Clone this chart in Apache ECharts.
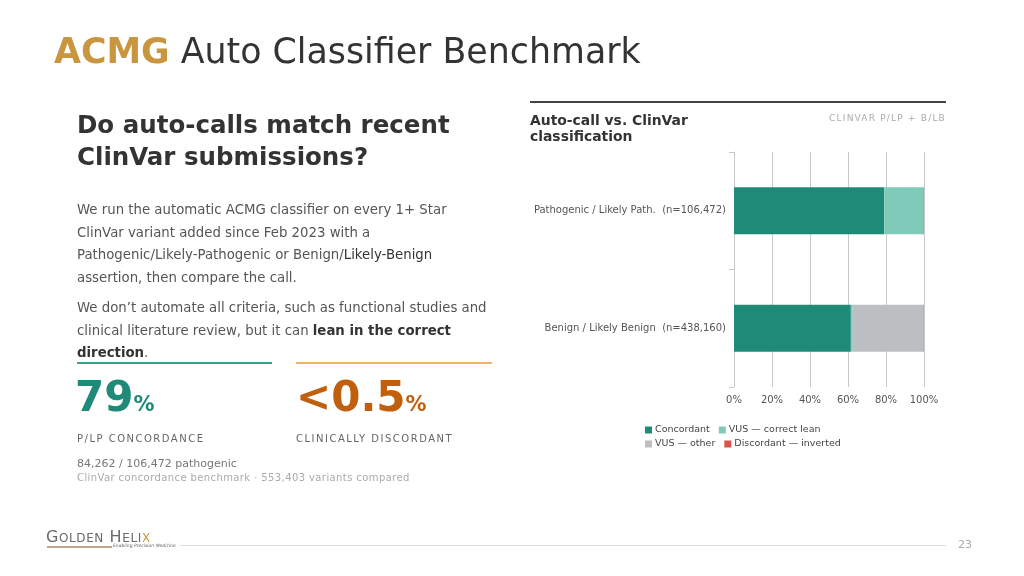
<!DOCTYPE html>
<html><head><meta charset="utf-8">
<script src="https://cdn.jsdelivr.net/npm/echarts@6/dist/echarts.min.js"></script>
<style>
html,body{margin:0;padding:0;width:1024px;height:576px;overflow:hidden;background:#fff;font-family:"DejaVu Sans",sans-serif;}
#chart{position:absolute;left:0;top:0;width:1024px;height:576px;}
.t{position:absolute;white-space:nowrap;}
</style></head>
<body>
<div id="chart"></div>
<div class="t" style="left:54px;top:31px;font-size:34.8px;color:#333;"><b style="color:#c8963e;">ACMG</b> Auto Classifier Benchmark</div>
<div class="t" style="left:77px;top:109px;font-size:24.5px;font-weight:bold;color:#333;line-height:32px;">Do auto-calls match recent<br>ClinVar submissions?</div>
<div class="t" style="left:77px;top:199px;font-size:13.3px;color:#555;line-height:22.5px;">We run the automatic ACMG classifier on every 1+ Star<br>ClinVar variant added since Feb 2023 with a<br>Pathogenic/Likely-Pathogenic or Benign/<span style="color:#333">Likely-Benign</span><br>assertion, then compare the call.</div>
<div class="t" style="left:77px;top:297px;font-size:13.3px;color:#555;line-height:22.5px;">We don’t automate all criteria, such as functional studies and<br>clinical literature review, but it can <b style="color:#333">lean in the correct</b><br><b style="color:#333">direction</b>.</div>
<div style="position:absolute;left:77px;top:362px;width:195px;height:2px;background:#3f9d8c;"></div>
<div style="position:absolute;left:296px;top:362px;width:196px;height:2px;background:#f2b468;"></div>
<div class="t" style="left:75px;top:372px;font-size:42px;font-weight:bold;color:#1f8a78;">79<span style="font-size:21px;">%</span></div>
<div class="t" style="left:296px;top:372px;font-size:42px;font-weight:bold;color:#c0600f;">&lt;0.5<span style="font-size:21px;">%</span></div>
<div class="t" style="left:77px;top:433px;font-size:10px;color:#666;letter-spacing:1.5px;">P/LP CONCORDANCE</div>
<div class="t" style="left:296px;top:433px;font-size:10px;color:#666;letter-spacing:1.5px;">CLINICALLY DISCORDANT</div>
<div class="t" style="left:77px;top:457px;font-size:11px;color:#777;">84,262 / 106,472 pathogenic</div>
<div class="t" style="left:77px;top:472px;font-size:10px;color:#aaa;letter-spacing:0.4px;">ClinVar concordance benchmark · 553,403 variants compared</div>
<div style="position:absolute;left:530px;top:101px;width:416px;height:2px;background:#444;"></div>
<div class="t" style="left:530px;top:112px;font-size:13.9px;font-weight:bold;color:#333;line-height:16px;">Auto-call vs. ClinVar<br>classification</div>
<div class="t" style="right:78px;top:113px;font-size:9px;color:#aaa;letter-spacing:1.2px;">CLINVAR P/LP + B/LB</div>
<div class="t" style="left:46px;top:527px;font-size:16px;color:#6a6a6a;letter-spacing:0.6px;">G<span style="font-size:12px">OLDEN</span> H<span style="font-size:12px">ELI</span><span style="color:#c8963e;font-size:12px">X</span></div>
<div style="position:absolute;left:47px;top:546px;width:65px;height:1.5px;background:#b8a98c;"></div>
<div class="t" style="left:113px;top:543px;font-size:4.5px;color:#666;font-style:italic;">Enabling Precision Medicine</div>
<div style="position:absolute;left:180px;top:545px;width:766px;height:1px;background:#ddd;"></div>
<div class="t" style="left:958px;top:538px;font-size:11px;color:#aaa;">23</div>
<script>
var categories = ['Pathogenic / Likely Path.', 'Benign / Likely Benign'];
var counts = ['106,472', '438,160'];
var seriesNames = ['Concordant', 'VUS — correct lean', 'VUS — other', 'Discordant — inverted'];
var concordant = [79.1, 61.5];
var vusCorrect = [20.5, 1.0];
var vusOther = [0.1, 37.3];
var discordant = [0.3, 0.2];
var xTicks = [0, 20, 40, 60, 80, 100];
var colors = ['#1f8a78', '#7fcab8', '#bdbec1', '#d9534f'];

var values = [concordant, vusCorrect, vusOther, discordant];
var legendBase = {itemWidth: 7, itemHeight: 7, itemGap: 9, icon: 'rect',
  textStyle: {fontSize: 9.5, color: '#444', padding: [0, 0, 0, -2]}};
var chart = echarts.init(document.getElementById('chart'));
chart.setOption({
  animation: false,
  textStyle: {fontFamily: 'DejaVu Sans'},
  grid: {left: 734, right: 100, top: 152, bottom: 189, containLabel: false},
  legend: [
    Object.assign({left: 640, top: 420, data: seriesNames.slice(0, 2)}, legendBase),
    Object.assign({left: 640, top: 434, data: seriesNames.slice(2, 4)}, legendBase)
  ],
  xAxis: {
    type: 'value', min: xTicks[0], max: xTicks[xTicks.length-1], interval: 20,
    axisLine: {show: false}, axisTick: {show: false},
    splitLine: {lineStyle: {color: '#c8c8c8'}},
    axisLabel: {formatter: '{value}%', fontSize: 10, color: '#555', margin: 8}
  },
  yAxis: {
    type: 'category', inverse: true,
    data: categories.map(function(c, i){ return c + '  (n=' + counts[i] + ')'; }),
    axisLine: {show: true, lineStyle: {color: '#c8c8c8'}},
    axisTick: {show: true, length: 5, lineStyle: {color: '#c8c8c8'}},
    axisLabel: {fontSize: 10, color: '#555', margin: 8}
  },
  series: seriesNames.map(function(n, i){
    return {name: n, type: 'bar', stack: 'all', barWidth: '40%',
      itemStyle: {color: colors[i]}, data: values[i]};
  })
});
</script>
</body></html>
